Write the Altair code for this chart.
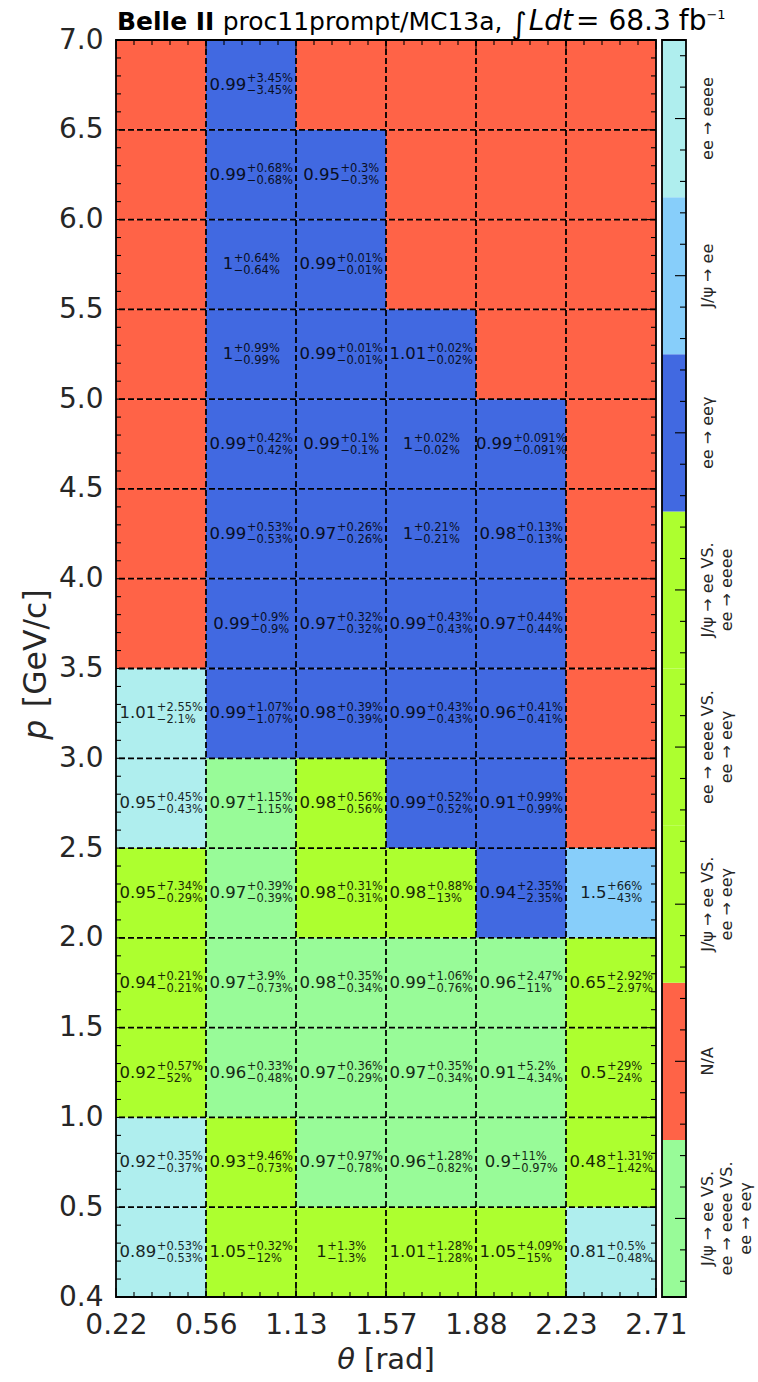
import altair as alt
import pandas as pd
import numpy as np

# ---------------- data ----------------
theta_labels = ["0.22", "0.56", "1.13", "1.57", "1.88", "2.23", "2.71"]
p_labels = ["0.4", "0.5", "1.0", "1.5", "2.0", "2.5", "3.0", "3.5",
            "4.0", "4.5", "5.0", "5.5", "6.0", "6.5", "7.0"]

# colorbar categories, bottom -> top
cat_labels = [
    "J/ψ → ee VS.\nee → eeee VS.\nee → eeγ",
    "N/A",
    "J/ψ → ee VS.\nee → eeγ",
    "ee → eeee VS.\nee → eeγ",
    "J/ψ → ee VS.\nee → eeee",
    "ee → eeγ",
    "J/ψ → ee",
    "ee → eeee",
]
cat_colors = ["#98FB98", "#FF6347", "#ADFF2F", "#ADFF2F", "#ADFF2F",
              "#4169E1", "#87CEFA", "#AFEEEE"]
class_to_cat = {"G": 0, "N": 1, "Y": 3, "B": 5, "S": 6, "T": 7}

# rows bottom (p 0.4-0.5) -> top (p 6.5-7.0), columns theta bins
cell_class = [
    "TYYYYT",
    "TYGGGY",
    "YGGGGY",
    "YGGGGY",
    "YGYYBS",
    "TGYBBN",
    "TBBBBN",
    "NBBBBN",
    "NBBBBN",
    "NBBBBN",
    "NBBBNN",
    "NBBNNN",
    "NBBNNN",
    "NBNNNN",
]
ratio = [
    [0.89, 1.05, 1, 1.01, 1.05, 0.81],
    [0.92, 0.93, 0.97, 0.96, 0.9, 0.48],
    [0.92, 0.96, 0.97, 0.97, 0.91, 0.5],
    [0.94, 0.97, 0.98, 0.99, 0.96, 0.65],
    [0.95, 0.97, 0.98, 0.98, 0.94, 1.5],
    [0.95, 0.97, 0.98, 0.99, 0.91, None],
    [1.01, 0.99, 0.98, 0.99, 0.96, None],
    [None, 0.99, 0.97, 0.99, 0.97, None],
    [None, 0.99, 0.97, 1, 0.98, None],
    [None, 0.99, 0.99, 1, 0.99, None],
    [None, 1, 0.99, 1.01, None, None],
    [None, 1, 0.99, None, None, None],
    [None, 0.99, 0.95, None, None, None],
    [None, 0.99, None, None, None, None],
]
err_up = [
    [0.53, 0.32, 1.3, 1.28, 4.09, 0.5],
    [0.35, 9.46, 0.97, 1.28, 11, 1.31],
    [0.57, 0.33, 0.36, 0.35, 5.2, 29],
    [0.21, 3.9, 0.35, 1.06, 2.47, 2.92],
    [7.34, 0.39, 0.31, 0.88, 2.35, 66],
    [0.45, 1.15, 0.56, 0.52, 0.99, None],
    [2.55, 1.07, 0.39, 0.43, 0.41, None],
    [None, 0.9, 0.32, 0.43, 0.44, None],
    [None, 0.53, 0.26, 0.21, 0.13, None],
    [None, 0.42, 0.1, 0.02, 0.091, None],
    [None, 0.99, 0.01, 0.02, None, None],
    [None, 0.64, 0.01, None, None, None],
    [None, 0.68, 0.3, None, None, None],
    [None, 3.45, None, None, None, None],
]
err_dn = [
    [0.53, 12, 1.3, 1.28, 15, 0.48],
    [0.37, 0.73, 0.78, 0.82, 0.97, 1.42],
    [52, 0.48, 0.29, 0.34, 4.34, 24],
    [0.21, 0.73, 0.34, 0.76, 11, 2.97],
    [0.29, 0.39, 0.31, 13, 2.35, 43],
    [0.43, 1.15, 0.56, 0.52, 0.99, None],
    [2.1, 1.07, 0.39, 0.43, 0.41, None],
    [None, 0.9, 0.32, 0.43, 0.44, None],
    [None, 0.53, 0.26, 0.21, 0.13, None],
    [None, 0.42, 0.1, 0.02, 0.091, None],
    [None, 0.99, 0.01, 0.02, None, None],
    [None, 0.64, 0.01, None, None, None],
    [None, 0.68, 0.3, None, None, None],
    [None, 3.45, None, None, None, None],
]

# ---------------- layout constants ----------------
W, H = 540, 1257
NCOL, NROW, NCAT = 6, 14, 8
COL_PX = W / NCOL
FS_MAIN, FS_SUP = 16.5, 11.5
FONT = "DejaVu Sans"
TXT = "#262626"

_w = {c: 0.636 for c in "0123456789"}
_w.update({".": 0.318, "%": 0.950, "+": 0.838, "−": 0.838})


def text_w(s, fs):
    return sum(_w.get(c, 0.6) for c in s) * fs


rows = []
for r in range(NROW):
    for c in range(NCOL):
        cat = cat_labels[class_to_cat[cell_class[r][c]]]
        d = dict(x0=c, x1=c + 1, y0=r, y1=r + 1, cat=cat, yc=r + 0.5,
                 main="", sup="", sub="", xm=c + 0.5, xs=c + 0.5)
        if ratio[r][c] is not None:
            m = f"{ratio[r][c]:g}"
            su = f"+{err_up[r][c]:g}%"
            sb = f"−{err_dn[r][c]:g}%"
            wm = text_w(m, FS_MAIN)
            ws = max(text_w(su, FS_SUP), text_w(sb, FS_SUP))
            split = (wm - ws) / 2
            d.update(main=m, sup=su, sub=sb,
                     xm=c + 0.5 + split / COL_PX,
                     xs=c + 0.5 + (split + 0.5) / COL_PX)
        rows.append(d)
cells = pd.DataFrame(rows)
texts = cells[cells["main"] != ""]

xs = alt.Scale(domain=[0, NCOL], nice=False, zero=False)
ys = alt.Scale(domain=[0, NROW], nice=False, zero=False)
cbs = alt.Scale(domain=[0, NCAT], nice=False, zero=False)
color_scale = alt.Scale(domain=cat_labels, range=cat_colors)

x_expr = "[" + ",".join(f"'{t}'" for t in theta_labels) + "][datum.value]"
y_expr = "[" + ",".join(f"'{t}'" for t in p_labels) + "][datum.value]"
ax_x = alt.Axis(values=list(range(NCOL + 1)), labelExpr=x_expr, title=None,
                grid=False, ticks=False, domain=False, labelFlush=False,
                labelOverlap=False, labelFontSize=28, labelPadding=14,
                labelColor=TXT, labelFont=FONT)
ax_y = alt.Axis(values=list(range(NROW + 1)), labelExpr=y_expr, title=None,
                grid=False, ticks=False, domain=False, labelFlush=False,
                labelOverlap=False, labelFontSize=28, labelPadding=13,
                labelColor=TXT, labelFont=FONT)


def X(f):
    return alt.X(f, scale=xs, axis=ax_x)


def Y(f):
    return alt.Y(f, scale=ys, axis=ax_y)


base = alt.Chart(cells)
heat = base.mark_rect().encode(
    x=X("x0:Q"), x2="x1:Q", y=Y("y0:Q"), y2="y1:Q",
    color=alt.Color("cat:N", scale=color_scale, legend=None))

tbase = alt.Chart(texts)
t_main = tbase.mark_text(align="right", baseline="middle", fontSize=FS_MAIN,
                         font=FONT, color="black", opacity=0.85).encode(
    x=X("xm:Q"), y=Y("yc:Q"), text="main:N")
t_sup = tbase.mark_text(align="left", baseline="middle", fontSize=FS_SUP, dy=-5.5,
                        font=FONT, color="black", opacity=0.85).encode(
    x=X("xs:Q"), y=Y("yc:Q"), text="sup:N")
t_sub = tbase.mark_text(align="left", baseline="middle", fontSize=FS_SUP, dy=6.5,
                        font=FONT, color="black", opacity=0.85).encode(
    x=X("xs:Q"), y=Y("yc:Q"), text="sub:N")

# dashed grid at bin boundaries
vgrid = alt.Chart(pd.DataFrame({"b": list(range(1, NCOL))})).mark_rule(
    color="black", strokeWidth=1.8, strokeDash=[6, 3]).encode(x=X("b:Q"))
hgrid = alt.Chart(pd.DataFrame({"b": list(range(1, NROW))})).mark_rule(
    color="black", strokeWidth=1.8, strokeDash=[6, 3]).encode(y=Y("b:Q"))

# inward ticks on all four sides
xmaj = pd.DataFrame({"t": np.arange(0, NCOL + 1)})
xmin = pd.DataFrame({"t": [i + k / 5 for i in range(NCOL) for k in range(1, 5)]})
ymaj = pd.DataFrame({"t": np.arange(0, NROW + 1)})
ymin = pd.DataFrame({"t": [i + k / 5 for i in range(NROW) for k in range(1, 5)]})
tick_layers = []
for df, L in ((xmaj, 9), (xmin, 5)):
    ch = alt.Chart(df).mark_rule(color="black", strokeWidth=1.1)
    tick_layers.append(ch.encode(x=X("t:Q"), y=alt.value(0), y2=alt.value(L)))
    tick_layers.append(ch.encode(x=X("t:Q"), y=alt.value(H), y2=alt.value(H - L)))
for df, L in ((ymaj, 9), (ymin, 5)):
    ch = alt.Chart(df).mark_rule(color="black", strokeWidth=1.1)
    tick_layers.append(ch.encode(y=Y("t:Q"), x=alt.value(0), x2=alt.value(L)))
    tick_layers.append(ch.encode(y=Y("t:Q"), x=alt.value(W), x2=alt.value(W - L)))

frame = alt.Chart(pd.DataFrame({"a": [0], "b": [NCOL], "c": [0], "d": [NROW]})).mark_rect(
    fillOpacity=0, stroke="black", strokeWidth=1.8).encode(
    x=X("a:Q"), x2="b:Q", y=Y("c:Q"), y2="d:Q")

one = pd.DataFrame({"s": [0]})


def label(text, x, y, fs, **kw):
    return alt.Chart(one).mark_text(text=text, fontSize=fs, font=FONT, **kw).encode(
        x=alt.value(x), y=alt.value(y))


# title pieces: bold tag, plain run, then the math part (slightly larger)
TFS, MFS, SFS, IFS = 25, 28, 13, 30
x_b = 1
x_r1 = x_b + 3.896 * TFS + 0.33 * TFS           # bold "Belle II" + a space
x_int = x_r1 + 11.24 * TFS + 0.3 * TFS           # "proc11prompt/MC13a," + space
x_it = x_int + 0.55 * IFS + 1                    # integral sign
x_eq = x_it + 1.584 * MFS + 3                    # italic Ldt
x_num = x_eq + 0.838 * MFS + 9                   # "=" + wide space
x_fb = x_num + 2.226 * MFS + 8                   # "68.3" + space
x_sup = x_fb + 0.987 * MFS                       # "fb"
t_y = -10
title_layers = [
    label("Belle II", x_b, t_y, TFS, fontWeight="bold", align="left",
          baseline="alphabetic", color="black"),
    label("proc11prompt/MC13a,", x_r1, t_y, TFS, align="left",
          baseline="alphabetic", color="black"),
    label("∫", x_int, t_y + 4, IFS, align="left", baseline="alphabetic", color="black"),
    label("Ldt", x_it, t_y, MFS, fontStyle="italic", align="left",
          baseline="alphabetic", color="black"),
    label("=", x_eq, t_y, MFS, align="left", baseline="alphabetic", color="black"),
    label("68.3", x_num, t_y, MFS, align="left", baseline="alphabetic", color="black"),
    label("fb", x_fb, t_y, MFS, align="left", baseline="alphabetic", color="black"),
    label("−1", x_sup, t_y - 11, SFS, align="left", baseline="alphabetic", color="black"),
]

# axis titles with italic symbols
XFS, YFS = 29, 31.5
xt_w = (0.61 + 0.318 + 0.39 + 0.411 + 0.613 + 0.635 + 0.39) * XFS
xt_left = W / 2 - xt_w / 2
xt_y = H + 72
yt_len = (0.635 + 0.4 + 3.741) * YFS
yt_x = -70
yt_c = H / 2 - 4
axis_titles = [
    label("θ", xt_left, xt_y, XFS, fontStyle="italic", align="left",
          baseline="alphabetic", color=TXT),
    label("[rad]", xt_left + xt_w, xt_y, XFS, align="right",
          baseline="alphabetic", color=TXT),
    label("p", yt_x, yt_c + yt_len / 2, YFS, fontStyle="italic", angle=270,
          align="left", baseline="alphabetic", color=TXT),
    label("[GeV/c]", yt_x, yt_c - yt_len / 2, YFS, angle=270,
          align="right", baseline="alphabetic", color=TXT),
]

main = alt.layer(heat, vgrid, hgrid, t_main, t_sup, t_sub, *tick_layers, frame,
                 *title_layers, *axis_titles)

# ---------------- colorbar ----------------
CB0, CB1, LBLX = W + 6, W + 30, W + 44
cb = pd.DataFrame({"cat": cat_labels, "c0": np.arange(NCAT), "c1": np.arange(NCAT) + 1,
                   "cm": np.arange(NCAT) + 0.5})
cb_rect = alt.Chart(cb).mark_rect().encode(
    x=alt.value(CB0), x2=alt.value(CB1),
    y=alt.Y("c0:Q", scale=cbs, axis=None), y2="c1:Q",
    color=alt.Color("cat:N", scale=color_scale, legend=None))
cb_maj = alt.Chart(cb).mark_rule(color="black", strokeWidth=1.1).encode(
    y=alt.Y("cm:Q", scale=cbs, axis=None), x=alt.value(CB1), x2=alt.value(CB1 - 11))
cb_min_df = pd.DataFrame({"t": [i + f for i in range(NCAT) for f in (0.1, 0.3, 0.7, 0.9)]})
cb_min = alt.Chart(cb_min_df).mark_rule(color="black", strokeWidth=1.1).encode(
    y=alt.Y("t:Q", scale=cbs, axis=None), x=alt.value(CB1), x2=alt.value(CB1 - 6))
cb_frame = alt.Chart(pd.DataFrame({"a": [0], "b": [NCAT]})).mark_rect(
    fillOpacity=0, stroke="black", strokeWidth=1.8).encode(
    x=alt.value(CB0), x2=alt.value(CB1), y=alt.Y("a:Q", scale=cbs, axis=None), y2="b:Q")
cb_text = alt.Chart(cb).mark_text(angle=270, align="center", baseline="top",
                                  lineBreak="\n", lineHeight=19, fontSize=16,
                                  font=FONT, color=TXT).encode(
    y=alt.Y("cm:Q", scale=cbs, axis=None), x=alt.value(LBLX), text="cat:N")
cbar = alt.layer(cb_rect, cb_maj, cb_min, cb_frame, cb_text)

chart = alt.layer(main, cbar).resolve_scale(y="independent").properties(
    width=W, height=H,
    padding={"left": 116, "top": 40, "right": 102, "bottom": 85},
    autosize=alt.AutoSizeParams(type="none"),
).configure(font=FONT).configure_view(strokeWidth=0)

chart.save("out.html", embed_options={"renderer": "svg", "actions": False})
